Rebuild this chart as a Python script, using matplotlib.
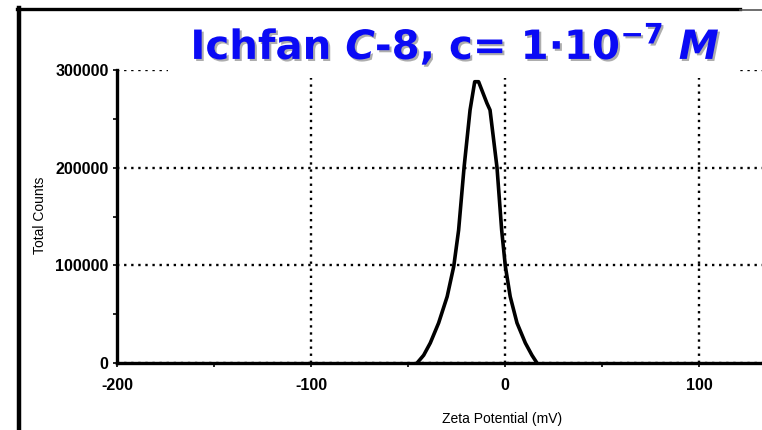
import matplotlib
matplotlib.use("Agg")
import matplotlib.pyplot as plt
import matplotlib.patheffects as pe
from matplotlib.patches import Rectangle
from matplotlib.lines import Line2D
from matplotlib.ticker import MultipleLocator

# zeta potential distribution
zeta_mv = [-45.3, -41.9, -38.5, -34.2, -29.8, -26.4, -23.9, -21.1, -18.0, -15.6, -13.6,
           -9.3, -7.7, -4.1, -1.7, 0.2, 2.7, 6.2, 10.5, 13.9, 16.5]
total_counts = [0, 8000, 20500, 41000, 68000, 99000, 136000, 200000, 259000, 288000, 288000,
                266000, 259000, 200000, 136000, 99000, 68000, 41000, 20500, 8000, 0]

x_ticks = [-200, -100, 0, 100]
y_ticks = [0, 100000, 200000, 300000]

plt.rcParams['axes.unicode_minus'] = False
plt.rcParams['mathtext.fontset'] = 'custom'
plt.rcParams['mathtext.it'] = 'DejaVu Sans:italic:bold'
plt.rcParams['mathtext.bf'] = 'DejaVu Sans:bold'
plt.rcParams['mathtext.rm'] = 'DejaVu Sans:bold'

W, H = 762, 430
fig = plt.figure(figsize=(W / 100, H / 100), dpi=100)
ax = fig.add_axes([117 / W, 1 - 363 / H, 1 - 117 / W, (363 - 70) / H])

ax.plot(zeta_mv, total_counts, color='black', lw=2.6, solid_joinstyle='round', zorder=3)

ax.set_xlim(-200, 132.5)
ax.set_ylim(0, 300000)
ax.set_xticks(x_ticks)
ax.set_yticks(y_ticks)
ax.xaxis.set_minor_locator(MultipleLocator(50))
ax.yaxis.set_minor_locator(MultipleLocator(50000))
ax.grid(True, which='major', color='black', linestyle=(0, (1, 2)), lw=1.7)

for s in ['top', 'right']:
    ax.spines[s].set_visible(False)
for s in ['left', 'bottom']:
    ax.spines[s].set_linewidth(2.4)
ax.tick_params(which='both', direction='out', length=3, width=1.2, pad=3)
for lab in ax.get_xticklabels() + ax.get_yticklabels():
    lab.set_fontfamily('Liberation Sans')
    lab.set_fontweight('bold')
    lab.set_fontsize(11.5)
ax.tick_params(axis='x', pad=8)

fig.text(40 / W, 1 - 215 / H, 'Total Counts', rotation=90, ha='center', va='center',
         fontsize=10, family='Liberation Sans')
fig.text(502 / W, 1 - 419 / H, 'Zeta Potential (mV)', ha='center', va='center',
         fontsize=10, family='Liberation Sans')

# outer frame
fig.add_artist(Line2D([17 / W, 740 / W], [1 - 8.5 / H, 1 - 8.5 / H], color='black', lw=2.4))
fig.add_artist(Line2D([740 / W, 1.0], [1 - 10 / H, 1 - 10 / H], color='#555555', lw=1.2))
fig.add_artist(Line2D([19 / W, 19 / W], [0, 1 - 8 / H], color='black', lw=3.2))

# title box covering the top of the plot
fig.add_artist(Rectangle((168 / W, 1 - 78 / H), (736 - 168) / W, (78 - 12) / H,
                         transform=fig.transFigure, facecolor='white', edgecolor='none', zorder=5))
fig.text(455 / W, 1 - 45 / H, r'Ichfan $\mathit{C}$-8, c= 1$\cdot$10$^{\mathbf{-7}}$ $\mathit{M}$',
         ha='center', va='center', fontsize=29, fontweight='bold', color='#0a0af5', zorder=6,
         path_effects=[pe.SimplePatchShadow(offset=(1.5, -1.5), shadow_rgbFace='#999999', alpha=0.8),
                       pe.Normal()])

fig.savefig('out.png', dpi=100)
